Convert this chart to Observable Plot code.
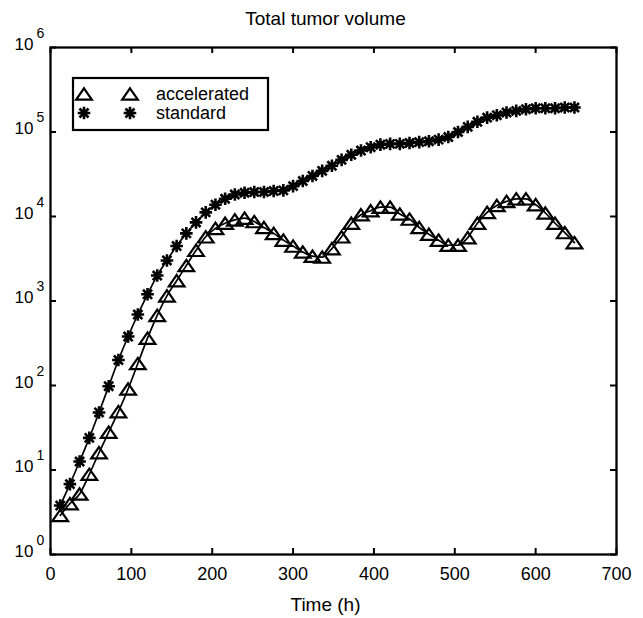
<!DOCTYPE html>
<html><head><meta charset="utf-8">
<script src="https://cdn.jsdelivr.net/npm/d3@7"></script>
<script src="https://cdn.jsdelivr.net/npm/@observablehq/plot@0.6"></script>
<style>
body{margin:0;background:#fff;}
#chart{position:relative;width:643px;height:618px;}
</style>
</head><body><div id="chart"></div>
<script>
// ---- data ----
const times = [12,24,36,48,60,72,84,96,108,120,132,144,156,168,180,192,204,216,228,240,252,264,276,288,300,312,324,336,348,360,372,384,396,408,420,432,444,456,468,480,492,504,516,528,540,552,564,576,588,600,612,624,636,648];
const accelerated = [2.9,4.0,5.2,8.9,16,28,49,91,182,363,676,1150,1740,2630,3980,5750,7240,8320,9120,9550,8710,7410,6310,5250,4470,3800,3390,3310,4170,5750,8320,10500,11700,12900,12900,10700,9330,7410,6170,5250,4570,4570,5620,8320,11200,13500,15100,16200,16200,13800,11000,8320,6460,4900];
const standard = [3.8,6.8,12.6,24,48,98,200,380,692,1200,2000,3020,4470,6310,8510,11200,13800,16200,18200,19100,19500,19500,20000,20400,22900,26300,30200,34700,39800,46800,53700,60300,66100,70800,72400,72400,74100,75900,77600,81300,87100,100000,115000,132000,148000,158000,170000,178000,186000,191000,191000,191000,195000,195000];
const seriesNames = ["accelerated", "standard"];
const xTicks = [0,100,200,300,400,500,600,700];
const yTicks = [1,10,100,1000,10000,100000,1000000];
const yExponents = ["0","1","2","3","4","5","6"];
const titleText = "Total tumor volume";
const xLabel = "Time (h)";

// ---- build table ----
const accRows = times.map((t,i) => ({t, v: accelerated[i], s: seriesNames[0]}));
const stdRows = times.map((t,i) => ({t, v: standard[i], s: seriesNames[1]}));

const FONT = "'Liberation Sans', Arial, Helvetica, sans-serif";
const W = 643, H = 618, ML = 50, MR = 27, MT = 47, MB = 64;
const FW = W - ML - MR, FH = H - MT - MB, TICK = 6;

// MATLAB-like marker shapes
const matlabTriangle = {draw(ctx, size){
  const r = Math.sqrt(size/Math.PI); const hw = r*1.17, hh = r*0.85;
  ctx.moveTo(0,-hh); ctx.lineTo(hw,hh); ctx.lineTo(-hw,hh); ctx.closePath();
}};
const matlabStar = {draw(ctx, size){
  const r = Math.sqrt(size/Math.PI); const d = r*0.72;
  ctx.moveTo(-r,0); ctx.lineTo(r,0); ctx.moveTo(0,-r); ctx.lineTo(0,r);
  ctx.moveTo(-d,-d); ctx.lineTo(d,d); ctx.moveTo(-d,d); ctx.lineTo(d,-d);
}};
const TRI_R = 6.7, STAR_R = 6.3, TRI_SW = 2.2, STAR_SW = 2.6;

const plot = Plot.plot({
  width: W, height: H,
  marginLeft: ML, marginRight: MR, marginTop: MT, marginBottom: MB,
  style: {fontFamily: FONT, background: "white", color: "black", overflow: "visible"},
  x: {domain: [0,700]},
  y: {type: "log", domain: [1, 1e6], axis: null},
  marks: [
    // lines
    Plot.line(stdRows, {x: "t", y: "v", stroke: "black", strokeWidth: 1.7, curve: "monotone-x"}),
    Plot.line(accRows, {x: "t", y: "v", stroke: "black", strokeWidth: 1.7, curve: "monotone-x"}),
    // markers
    Plot.dot(stdRows, {x: "t", y: "v", symbol: () => matlabStar, r: STAR_R, stroke: "black", strokeWidth: STAR_SW, fill: "none"}),
    Plot.dot(accRows, {x: "t", y: "v", symbol: () => matlabTriangle, r: TRI_R, stroke: "black", strokeWidth: TRI_SW, fill: "none"}),
    // inward ticks on all four sides
    Plot.ruleX(xTicks, {x: d => d, insetTop: FH - TICK, stroke: "black", strokeWidth: 2}),
    Plot.ruleX(xTicks, {x: d => d, insetBottom: FH - TICK, stroke: "black", strokeWidth: 2}),
    Plot.ruleY(yTicks, {y: d => d, insetRight: FW - TICK, stroke: "black", strokeWidth: 2}),
    Plot.ruleY(yTicks, {y: d => d, insetLeft: FW - TICK, stroke: "black", strokeWidth: 2}),
    // x tick labels
    Plot.axisX(xTicks, {anchor: "bottom", tickSize: 0, tickPadding: 13, fontSize: 18, label: null, tickFormat: d => String(d)}),
    // y tick labels 10^n
    Plot.text(yTicks, {y: d => d, frameAnchor: "left", text: () => "10", textAnchor: "end", dx: -17, dy: -3, fontSize: 17, fill: "black"}),
    Plot.text(yTicks, {y: d => d, frameAnchor: "left", text: (d,i) => yExponents[i], textAnchor: "start", dx: -14, dy: -14, fontSize: 14, fill: "black"}),
    // frame
    Plot.frame({stroke: "black", strokeWidth: 2.3}),
    // title and x label
    Plot.text([titleText], {frameAnchor: "top", lineAnchor: "middle", dx: -8, dy: -29, fontSize: 19, fill: "black"}),
    Plot.text([xLabel], {frameAnchor: "bottom", lineAnchor: "middle", dx: -8, dy: 50, fontSize: 19, fill: "black"})
  ]
});
document.getElementById("chart").appendChild(plot);

// ---- legend box (inside the axes, top-left) ----
const svg = d3.select(plot);
const lg = svg.append("g").attr("font-family", FONT).attr("text-anchor", "start");
lg.append("rect").attr("x", 73).attr("y", 78).attr("width", 195).attr("height", 52)
  .attr("fill", "white").attr("stroke", "black").attr("stroke-width", 2.2);
const legendItems = [
  {name: seriesNames[0], sym: matlabTriangle, r: TRI_R, sw: TRI_SW, y: 94},
  {name: seriesNames[1], sym: matlabStar, r: STAR_R, sw: STAR_SW, y: 113}
];
legendItems.forEach(it => {
  [84, 130].forEach(x => {
    lg.append("path").attr("d", d3.symbol(it.sym, Math.PI*it.r*it.r)())
      .attr("transform", `translate(${x},${it.y})`)
      .attr("fill", "none").attr("stroke", "black").attr("stroke-width", it.sw);
  });
  lg.append("text").attr("x", 156).attr("y", it.y).attr("dy", "0.35em")
    .attr("font-size", 18).attr("fill", "black").text(it.name);
});
</script>
</body></html>
